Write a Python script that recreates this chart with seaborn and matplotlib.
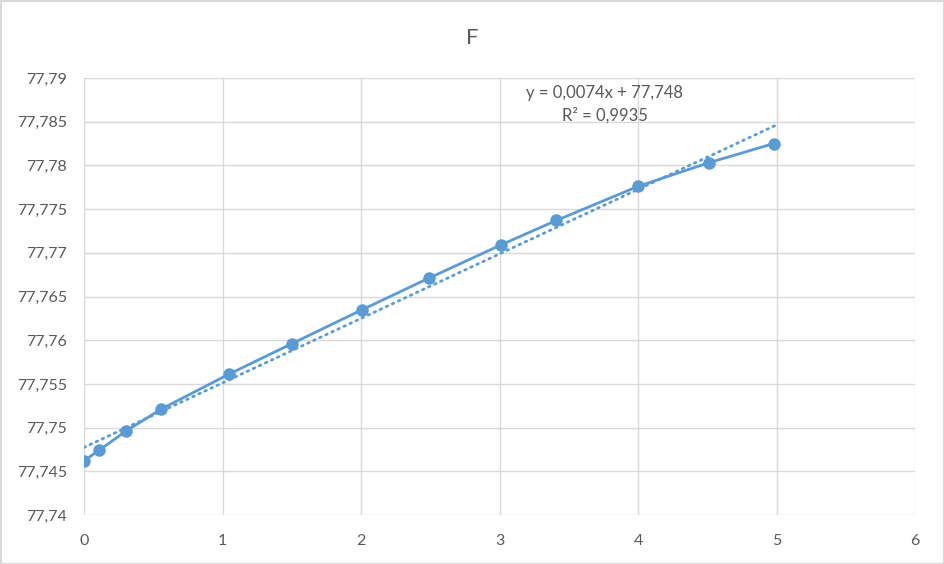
import numpy as np
import pandas as pd
import matplotlib
matplotlib.use("Agg")
import matplotlib.pyplot as plt
import seaborn as sns
from matplotlib.ticker import FuncFormatter, MultipleLocator
from matplotlib.patches import Rectangle

x_vals = [0.0, 0.108, 0.303, 0.555, 1.045, 1.50, 2.01, 2.49, 3.01, 3.41, 4.00, 4.51, 4.98]
y_vals = [77.7462, 77.7474, 77.7496, 77.7521, 77.7561, 77.7596, 77.7635, 77.7671,
          77.7709, 77.7737, 77.7776, 77.7803, 77.7825]
title = "F"
eq_text = "y = 0,0074x + 77,748"
r2_text = "R² = 0,9935"

sns.set_theme(style="white")
plt.rcParams['font.family'] = ['Lato', 'DejaVu Sans']

blue = "#5B9BD5"
grid_c = "#D9D9D9"
txt_c = "#595959"

fig = plt.figure(figsize=(9.44, 5.64), dpi=100)
ax = fig.add_axes([84/944, 1-515/564, (915-84)/944, (515-78)/564])

df = pd.DataFrame({"x": x_vals, "y": y_vals})
slope, intercept = np.polyfit(df["x"], df["y"], 1)
tx = np.array([0.0, 5.0])
trend = pd.DataFrame({"x": tx, "y": slope * tx + intercept})

sns.lineplot(data=trend, x="x", y="y", ax=ax, color=blue, lw=2.0,
             linestyle=(0, (0.6, 1.8)), dash_capstyle="round", zorder=2)
sns.lineplot(data=df, x="x", y="y", ax=ax, color=blue, lw=2.0, marker="o",
             markersize=9, markeredgewidth=0, sort=False, zorder=3)

ax.set_xlim(0, 6)
ax.set_ylim(77.74, 77.79)
ax.xaxis.set_major_locator(MultipleLocator(1))
ax.yaxis.set_major_locator(MultipleLocator(0.005))
ax.xaxis.set_major_formatter(FuncFormatter(lambda v, p: f"{v:g}".replace(".", ",")))
ax.yaxis.set_major_formatter(FuncFormatter(lambda v, p: f"{round(v, 4):g}".replace(".", ",")))
ax.grid(True, color=grid_c, lw=1.0)
for s in ax.spines.values():
    s.set_visible(False)
ax.tick_params(axis="both", length=0, labelsize=11.5, colors=txt_c)
ax.tick_params(axis="x", pad=14)
ax.tick_params(axis="y", pad=12)
ax.set_xlabel("")
ax.set_ylabel("")
ax.set_axisbelow(True)

fig.text(0.5, 1-38/564, title, ha="center", va="center", fontsize=16, color=txt_c)
ax.text(605/944, 1-93/564, eq_text, transform=fig.transFigure, ha="center", va="center",
        fontsize=12, color=txt_c)
ax.text(605/944, 1-115/564, r2_text, transform=fig.transFigure, ha="center", va="center",
        fontsize=12, color=txt_c)

fig.patches.append(Rectangle((0.5/944, 0.5/564), 1-1/944, 1-1/564, transform=fig.transFigure,
                             fill=False, edgecolor=grid_c, lw=1.5))

fig.savefig("out.png", dpi=100)
